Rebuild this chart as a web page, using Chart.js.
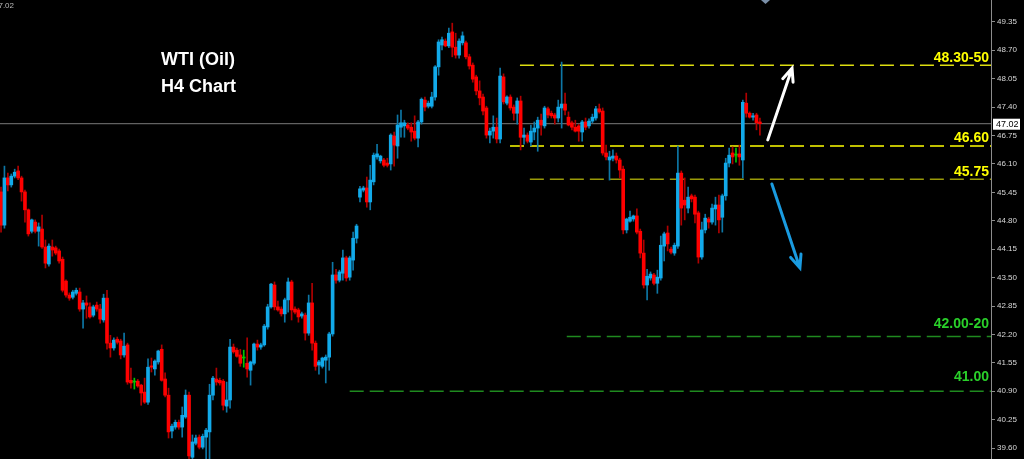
<!DOCTYPE html>
<html>
<head>
<meta charset="utf-8">
<script src="https://cdn.jsdelivr.net/npm/chart.js@4/dist/chart.umd.min.js"></script>
<style>
  html, body { margin: 0; padding: 0; background: #000; overflow: hidden; }
  canvas { display: block; }
</style>
</head>
<body>
<canvas id="myChart" width="1024" height="459"></canvas>
<script>
// H4 candles, oldest first
var opens = [
  45.46, 44.70, 45.78, 45.62, 45.82, 45.94, 45.78, 45.46, 45.05, 44.56,
  44.77, 44.56, 44.61, 44.20, 43.81, 44.20, 44.18, 44.11, 43.92, 43.42,
  43.10, 43.05, 43.14, 43.17, 42.78, 42.92, 42.83, 42.64, 42.87, 42.78,
  42.53, 43.03, 42.00, 41.89, 42.09, 42.05, 41.73, 41.96, 41.15, 41.11,
  41.13, 41.04, 40.88, 40.65, 41.48, 41.41, 41.57, 41.86, 41.18, 40.81,
  39.99, 40.08, 40.19, 40.08, 40.31, 40.81, 39.39, 39.71, 39.85, 39.62,
  39.85, 39.97, 40.81, 41.18, 41.15, 41.13, 40.56, 40.70, 41.91, 41.84,
  41.73, 41.66, 41.54, 41.38, 41.54, 41.98, 41.91, 41.96, 42.37, 42.83,
  43.33, 42.83, 42.78, 42.67, 42.99, 43.40, 42.78, 42.76, 42.62, 42.64,
  42.23, 42.92, 42.00, 41.50, 41.47, 41.61, 41.68, 42.21, 43.56, 43.44,
  43.60, 43.95, 43.51, 43.90, 44.40, 45.34, 45.50, 45.55, 45.23, 45.69,
  46.26, 46.17, 46.19, 46.12, 46.10, 46.74, 46.51, 46.94, 46.97, 46.99,
  46.94, 46.85, 46.69, 47.06, 47.56, 47.42, 47.42, 47.63, 48.32, 48.82,
  48.91, 48.80, 49.12, 48.77, 48.59, 48.87, 48.87, 48.55, 48.36, 48.09,
  47.77, 47.63, 47.38, 46.76, 46.85, 46.94, 46.67, 48.09, 47.49, 47.63,
  47.40, 47.26, 47.54, 46.71, 46.76, 46.60, 46.83, 46.92, 47.10, 46.97,
  47.36, 47.26, 47.22, 47.15, 47.38, 47.47, 47.17, 47.04, 46.94, 46.97,
  46.83, 47.06, 46.97, 47.08, 47.15, 47.36, 47.31, 46.35, 46.19, 46.23,
  46.28, 46.19, 45.98, 44.59, 44.79, 44.84, 44.91, 44.56, 44.06, 43.33,
  43.49, 43.56, 43.37, 43.49, 44.22, 44.52, 44.15, 44.06, 44.22, 45.89,
  45.27, 45.09, 45.37, 45.34, 44.98, 43.97, 44.59, 44.84, 44.77, 45.07,
  45.16, 44.88, 45.37, 46.12, 46.35, 46.30, 46.33, 46.19, 47.49, 47.26,
  47.17, 47.22, 47.06
];
var highs = [
  45.57, 46.05, 45.89, 45.87, 45.98, 46.05, 45.82, 45.50, 45.07, 44.84,
  44.82, 44.75, 44.93, 44.36, 44.27, 44.36, 44.22, 44.15, 43.97, 43.45,
  43.15, 43.21, 43.26, 43.26, 42.98, 43.08, 42.92, 42.87, 42.94, 42.89,
  43.12, 43.21, 42.18, 42.12, 42.14, 42.09, 42.23, 42.00, 41.43, 41.20,
  41.17, 41.06, 41.20, 41.64, 41.66, 41.62, 41.84, 41.96, 41.32, 40.97,
  40.15, 40.24, 40.24, 40.54, 40.93, 40.88, 39.90, 39.90, 39.90, 39.92,
  40.05, 41.06, 41.24, 41.43, 41.20, 41.17, 41.11, 42.09, 41.98, 41.89,
  41.86, 41.84, 42.12, 41.59, 42.00, 42.07, 42.00, 42.43, 42.89, 43.37,
  43.40, 42.96, 42.83, 43.03, 43.49, 43.44, 42.83, 42.80, 42.71, 42.69,
  43.10, 43.37, 42.05, 41.61, 41.68, 41.73, 42.25, 43.85, 43.69, 43.67,
  44.13, 43.99, 43.99, 44.54, 44.72, 45.59, 45.59, 45.80, 46.07, 46.35,
  46.55, 46.30, 46.23, 46.23, 46.79, 46.83, 47.22, 47.33, 47.10, 47.04,
  47.04, 47.20, 47.10, 47.61, 47.63, 47.54, 47.74, 48.35, 48.94, 49.00,
  48.96, 49.21, 49.32, 49.09, 48.96, 49.12, 48.91, 48.61, 48.41, 48.13,
  48.00, 47.70, 47.42, 46.92, 47.20, 47.15, 48.29, 48.16, 47.66, 47.68,
  47.45, 47.61, 47.65, 46.92, 46.81, 46.99, 47.06, 47.17, 47.24, 47.42,
  47.40, 47.31, 47.26, 47.56, 48.43, 47.72, 47.29, 47.08, 47.10, 47.01,
  47.10, 47.15, 47.13, 47.24, 47.42, 47.47, 47.38, 46.53, 46.39, 46.42,
  46.35, 46.23, 46.05, 44.86, 45.02, 44.93, 45.07, 44.61, 44.36, 43.69,
  43.63, 43.60, 43.67, 44.45, 44.54, 44.68, 44.20, 44.29, 46.51, 45.94,
  45.78, 45.57, 45.41, 45.39, 45.02, 44.77, 44.95, 44.88, 45.18, 45.34,
  45.39, 45.41, 46.23, 46.46, 46.49, 46.46, 46.53, 47.56, 47.72, 47.29,
  47.26, 47.26, 47.15
];
var lows = [
  44.54, 44.63, 45.48, 45.57, 45.78, 45.74, 45.25, 44.77, 44.45, 44.52,
  44.52, 44.22, 44.17, 43.72, 43.76, 43.99, 44.02, 43.83, 43.17, 43.05,
  42.98, 43.01, 43.10, 42.73, 42.34, 42.57, 42.57, 42.60, 42.73, 42.46,
  42.48, 41.86, 41.68, 41.84, 41.98, 41.64, 41.68, 41.06, 40.97, 40.95,
  40.99, 40.58, 40.62, 40.60, 41.34, 41.27, 41.52, 41.13, 40.77, 39.83,
  39.83, 40.03, 40.03, 39.85, 40.28, 39.35, 39.35, 39.67, 39.58, 39.58,
  39.35, 39.30, 40.70, 41.04, 41.04, 40.47, 40.42, 40.51, 41.77, 41.68,
  41.47, 41.45, 41.22, 41.04, 41.50, 41.84, 41.86, 41.93, 42.32, 42.80,
  42.76, 42.73, 42.62, 42.48, 42.71, 42.53, 42.67, 42.48, 42.57, 42.07,
  42.18, 41.84, 41.38, 41.29, 41.43, 41.09, 41.38, 42.16, 43.37, 43.40,
  43.44, 43.42, 43.44, 43.67, 44.29, 45.23, 45.46, 45.11, 45.05, 45.62,
  46.21, 46.12, 46.03, 46.03, 45.96, 46.05, 46.23, 46.71, 46.71, 46.88,
  46.62, 46.65, 46.49, 47.01, 47.31, 47.38, 47.38, 47.56, 48.13, 48.71,
  48.78, 48.76, 48.55, 48.52, 48.52, 48.82, 48.50, 48.27, 47.97, 47.68,
  47.45, 47.22, 46.69, 46.58, 46.69, 46.58, 46.58, 47.47, 47.45, 47.33,
  47.10, 47.01, 46.42, 46.55, 46.58, 46.51, 46.65, 46.39, 46.76, 46.92,
  47.15, 47.15, 47.01, 47.06, 46.92, 47.22, 46.97, 46.88, 46.83, 46.62,
  46.62, 46.88, 46.92, 47.04, 47.10, 47.26, 46.30, 46.19, 45.73, 46.17,
  46.12, 45.78, 44.50, 44.52, 44.77, 44.79, 44.50, 43.95, 43.26, 42.99,
  43.44, 43.33, 43.14, 43.44, 43.88, 44.11, 44.04, 44.01, 44.17, 44.70,
  44.82, 44.98, 45.23, 44.75, 43.83, 43.92, 44.52, 44.63, 44.72, 44.70,
  44.52, 44.54, 45.27, 46.03, 46.10, 46.14, 46.07, 45.78, 47.17, 47.15,
  47.10, 46.88, 46.76
];
var closes = [
  44.70, 45.78, 45.62, 45.82, 45.91, 45.78, 45.46, 45.05, 44.50, 44.82,
  44.56, 44.66, 44.20, 43.83, 44.22, 44.13, 44.06, 43.88, 43.21, 43.10,
  43.03, 43.17, 43.21, 42.78, 42.92, 42.87, 42.60, 42.83, 42.78, 42.55,
  43.03, 42.00, 41.89, 42.07, 42.02, 41.73, 41.93, 41.11, 41.09, 41.11,
  41.02, 40.86, 40.65, 41.45, 41.45, 41.59, 41.82, 41.15, 40.81, 39.97,
  40.10, 40.19, 40.08, 40.35, 40.81, 39.42, 39.74, 39.83, 39.62, 39.87,
  40.01, 40.81, 41.20, 41.11, 41.09, 40.58, 40.70, 41.91, 41.80, 41.70,
  41.54, 41.66, 41.41, 41.57, 41.98, 41.91, 41.96, 42.39, 42.83, 43.35,
  42.83, 42.76, 42.67, 42.99, 43.40, 42.76, 42.71, 42.60, 42.67, 42.23,
  42.92, 42.00, 41.47, 41.57, 41.66, 41.68, 42.21, 43.56, 43.44, 43.63,
  43.95, 43.49, 43.95, 44.40, 44.68, 45.53, 45.55, 45.23, 45.73, 46.30,
  46.33, 46.28, 46.07, 46.07, 46.76, 46.53, 46.99, 47.04, 47.04, 46.92,
  46.83, 46.69, 47.06, 47.58, 47.40, 47.49, 47.63, 48.32, 48.89, 48.94,
  48.80, 49.09, 48.77, 48.59, 48.91, 49.03, 48.55, 48.34, 48.04, 47.77,
  47.61, 47.31, 46.76, 46.85, 46.94, 46.67, 48.11, 47.52, 47.63, 47.38,
  47.26, 47.54, 46.71, 46.76, 46.62, 46.85, 46.92, 47.10, 46.99, 47.38,
  47.22, 47.20, 47.15, 47.40, 47.47, 47.33, 46.99, 46.94, 46.85, 46.85,
  47.06, 46.94, 47.08, 47.17, 47.36, 47.29, 46.35, 46.26, 46.26, 46.28,
  46.19, 45.96, 44.59, 44.84, 44.88, 44.91, 44.54, 44.06, 43.33, 43.53,
  43.58, 43.37, 43.51, 44.24, 44.50, 44.27, 44.08, 44.24, 45.89, 45.09,
  45.16, 45.34, 45.30, 44.95, 43.97, 44.59, 44.86, 44.77, 45.09, 45.16,
  44.82, 45.37, 46.12, 46.30, 46.26, 46.30, 46.26, 47.51, 47.26, 47.17,
  47.20, 47.04, 47.02
];

var priceTicks = [39.60, 40.25, 40.90, 41.55, 42.20, 42.85, 43.50, 44.15,
                  44.80, 45.45, 46.10, 46.75, 47.40, 48.05, 48.70, 49.35];
var lastPrice = 47.02;

// support / resistance levels drawn on the chart
var levelValues = [48.36, 46.51, 45.75, 42.15, 40.90];
var levelLabels = ['48.30-50', '46.60', '45.75', '42.00-20', '41.00'];
var levelStart = [151.8, 148.9, 154.7, 165.5, 102];

// hand drawn arrows, in (bar index, price)
var arrowUp = [224.3, 46.65, 231.4, 48.29];
var arrowDown = [225.5, 45.64, 233.7, 43.72];

var xMin = -0.3, xMax = 289.6;
var yMin = 39.35, yMax = 49.85;

var levelLineColors = ['#dede10', '#ffff00', '#9a9a08', '#1f8a1f', '#1f8a1f'];
var levelTextColors = ['#ffff00', '#ffff00', '#ffff00', '#2ad02a', '#2ad02a'];
var levelTextLift = [3, 4, 3, 9, 10];

var bodyData = [], wickData = [], bodyColors = [], wickColors = [];
for (var i = 0; i < closes.length; i++) {
    bodyData.push({x: i, y: [opens[i], closes[i]]});
    wickData.push({x: i, y: [lows[i], highs[i]]});
    if (closes[i] > opens[i]) {
        bodyColors.push('#12aaea'); wickColors.push('#0d77a6');
    } else if (closes[i] < opens[i]) {
        bodyColors.push('#ff0000'); wickColors.push('#b00000');
    } else {
        bodyColors.push('#00c800'); wickColors.push('#00c800');
    }
}

var datasets = [
    {
        type: 'bar', data: bodyData, backgroundColor: bodyColors,
        barThickness: 3, minBarLength: 1, grouped: false, borderWidth: 0, order: 1
    },
    {
        type: 'bar', data: wickData, backgroundColor: wickColors,
        barThickness: 1, grouped: false, borderWidth: 0, order: 2
    },
    {
        type: 'line', data: [{x: xMin, y: lastPrice}, {x: xMax, y: lastPrice}],
        borderColor: '#7a7a7a', borderWidth: 1, pointRadius: 0, order: 9
    }
];
levelValues.forEach(function (v, k) {
    datasets.push({
        type: 'line', data: [{x: levelStart[k], y: v}, {x: xMax, y: v}],
        borderColor: levelLineColors[k], borderWidth: 1.5, borderDash: [14, 6],
        pointRadius: 0, order: 5
    });
});

function drawArrow(ctx, chart, a, color) {
    var xs = chart.scales.x, ys = chart.scales.y;
    var x1 = xs.getPixelForValue(a[0]), y1 = ys.getPixelForValue(a[1]);
    var x2 = xs.getPixelForValue(a[2]), y2 = ys.getPixelForValue(a[3]);
    var ang = Math.atan2(y2 - y1, x2 - x1);
    ctx.save();
    ctx.strokeStyle = color;
    ctx.lineWidth = 3;
    ctx.lineCap = 'round';
    ctx.beginPath();
    ctx.moveTo(x1, y1); ctx.lineTo(x2, y2);
    ctx.moveTo(x2 - 14 * Math.cos(ang - 0.4), y2 - 14 * Math.sin(ang - 0.4));
    ctx.lineTo(x2, y2);
    ctx.lineTo(x2 - 14 * Math.cos(ang + 0.4), y2 - 14 * Math.sin(ang + 0.4));
    ctx.stroke();
    ctx.restore();
}

var extras = {
    id: 'extras',
    afterDraw: function (chart) {
        var ctx = chart.ctx, ys = chart.scales.y, right = chart.chartArea.right;
        ctx.save();
        // title
        ctx.fillStyle = '#ffffff';
        ctx.font = 'bold 18px "Liberation Sans", Arial, sans-serif';
        ctx.textBaseline = 'alphabetic';
        ctx.fillText('WTI (Oil)', 161, 65);
        ctx.fillText('H4 Chart', 161, 92);

        // level labels
        ctx.font = 'bold 14px "Liberation Sans", Arial, sans-serif';
        ctx.textAlign = 'right';
        levelValues.forEach(function (v, k) {
            ctx.fillStyle = levelTextColors[k];
            ctx.fillText(levelLabels[k], right - 2, ys.getPixelForValue(v) - levelTextLift[k]);
        });

        // last price box on the axis
        var py = ys.getPixelForValue(lastPrice);
        ctx.fillStyle = '#ffffff';
        ctx.fillRect(right + 2, py - 5, 27, 11);
        ctx.fillStyle = '#000000';
        ctx.font = '9px "Liberation Sans", Arial, sans-serif';
        ctx.textAlign = 'left';
        ctx.textBaseline = 'middle';
        ctx.fillText(lastPrice.toFixed(2), right + 5, py + 0.5);

        // cut-off price text in the corner
        ctx.fillStyle = '#bbbbbb';
        ctx.font = '8px "Liberation Sans", Arial, sans-serif';
        ctx.fillText(lastPrice.toFixed(2), -6, 6);

        // small marker at the top
        ctx.fillStyle = '#7a8fa8';
        ctx.beginPath();
        ctx.moveTo(761, 0); ctx.lineTo(770, 0); ctx.lineTo(765.5, 4);
        ctx.closePath(); ctx.fill();
        ctx.restore();

        drawArrow(ctx, chart, arrowUp, '#ffffff');
        drawArrow(ctx, chart, arrowDown, '#1a9be0');
    }
};

var ctx = document.getElementById('myChart').getContext('2d');
var chart = new Chart(ctx, {
    type: 'bar',
    data: { datasets: datasets },
    options: {
        responsive: false,
        animation: false,
        layout: { padding: 0 },
        plugins: {
            legend: { display: false },
            tooltip: { enabled: false }
        },
        scales: {
            x: {
                type: 'linear', min: xMin, max: xMax, offset: false,
                display: false
            },
            y: {
                type: 'linear', position: 'right', min: yMin, max: yMax,
                beginAtZero: false,
                afterBuildTicks: function (scale) {
                    scale.ticks = priceTicks.map(function (v) { return {value: v}; });
                },
                afterFit: function (scale) {
                    scale.width = 33;
                    // let the plot run to the very top and bottom
                    scale.paddingTop = 0;
                    scale.paddingBottom = 0;
                },
                border: { color: '#8c8c8c', width: 1 },
                grid: { drawOnChartArea: false, color: '#8c8c8c', tickLength: 4 },
                ticks: {
                    color: '#d8d8d8', padding: 2,
                    font: { size: 8, family: '"Liberation Sans", Arial, sans-serif' },
                    callback: function (v) { return Number(v).toFixed(2); }
                }
            }
        }
    },
    plugins: [extras]
});
</script>
</body>
</html>
